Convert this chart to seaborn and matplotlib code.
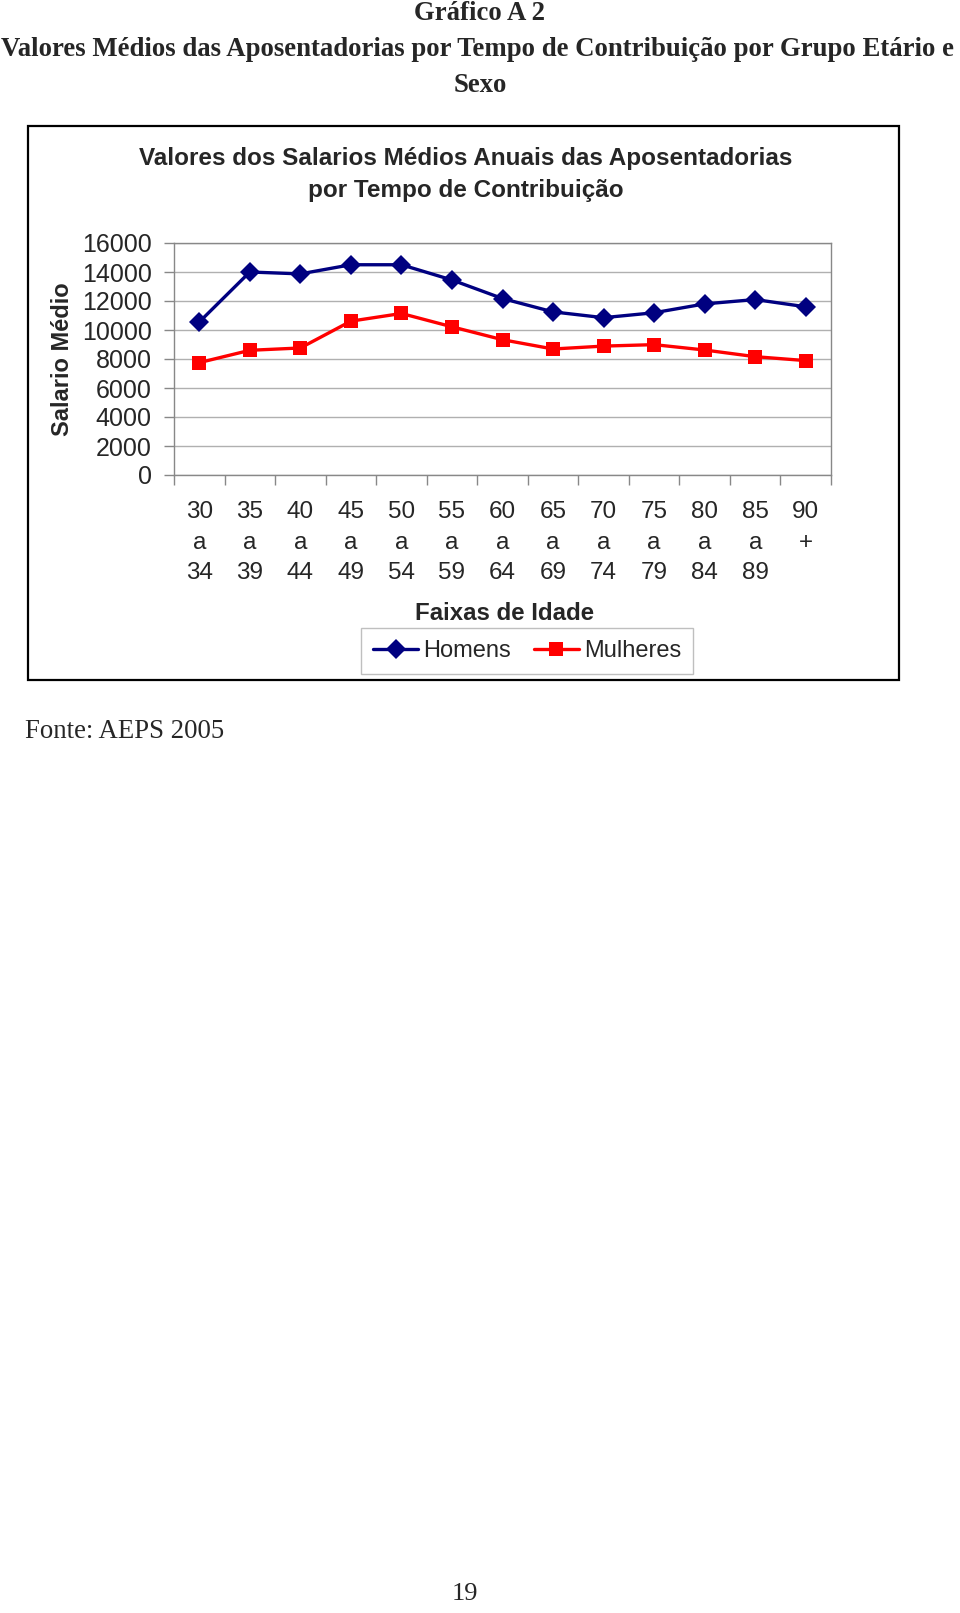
import pandas as pd
import matplotlib.pyplot as plt
from matplotlib.patches import Rectangle
from matplotlib.ticker import FixedLocator
import seaborn as sns

# faixas etarias (categorias do eixo x)
faixas = ['30\na\n34', '35\na\n39', '40\na\n44', '45\na\n49', '50\na\n54', '55\na\n59', '60\na\n64',
          '65\na\n69', '70\na\n74', '75\na\n79', '80\na\n84', '85\na\n89', '90\n+\n ']
# valores
homens = [10550, 14000, 13870, 14500, 14500, 13450, 12170, 11250, 10850, 11190, 11800, 12100, 11600]
mulheres = [7750, 8600, 8760, 10610, 11140, 10220, 9330, 8690, 8890, 8990, 8620, 8160, 7890]
y_ticks = [0, 2000, 4000, 6000, 8000, 10000, 12000, 14000, 16000]

W, H = 960, 1613


def fy(y):
    # pixel (top-down) -> figure fraction
    return 1 - y / H


df = pd.DataFrame({
    'pos': list(range(len(faixas))) * 2,
    'valor': homens + mulheres,
    'sexo': ['Homens'] * len(homens) + ['Mulheres'] * len(mulheres),
})

sns.set_style('white')
plt.rcParams['font.family'] = ['Liberation Sans', 'DejaVu Sans']

fig = plt.figure(figsize=(W / 100, H / 100), dpi=100)
ax = fig.add_axes([174 / W, fy(475), (831 - 174) / W, (475 - 243) / H])

sns.lineplot(data=df, x='pos', y='valor', hue='sexo', style='sexo',
             palette={'Homens': '#000080', 'Mulheres': '#FF0000'},
             markers={'Homens': 'D', 'Mulheres': 's'}, dashes=False,
             linewidth=2.4, markersize=10, markeredgewidth=0, ax=ax, legend=False)

ax.set_xlim(-0.5, len(faixas) - 0.5)
ax.set_ylim(0, 16000)
ax.set_yticks(y_ticks)
ax.set_yticklabels([str(v) for v in y_ticks], fontsize=18)
ax.set_xticks(range(len(faixas)))
ax.set_xticklabels(faixas, fontsize=17.5, linespacing=1.5)
ax.xaxis.set_minor_locator(FixedLocator([i - 0.5 for i in range(len(faixas) + 1)]))
ax.tick_params(axis='x', which='major', length=0, pad=19)
ax.tick_params(axis='x', which='minor', length=7, color='#888888', width=1, direction='out', bottom=True)
ax.tick_params(axis='y', length=7, color='#888888', width=1, direction='out', left=True, pad=9)
ax.grid(axis='y', color='#b0b0b0', linewidth=1)
for s in ax.spines.values():
    s.set_color('#888888')
    s.set_linewidth(1)
ax.set_xlabel('')
ax.set_ylabel('Salario Médio', fontsize=17, fontweight='bold')
ax.yaxis.set_label_coords((74 - 174) / (831 - 174), 0.5)

# titulos da pagina
serif = 'Liberation Serif'
fig.text(0.5, fy(14), 'Gráfico A 2', ha='center', va='center', fontsize=19.3,
         fontweight='bold', family=serif)
fig.text(0.497, fy(49), 'Valores Médios das Aposentadorias por Tempo de Contribuição por Grupo Etário e',
         ha='center', va='center', fontsize=19.3, fontweight='bold', family=serif)
fig.text(0.5, fy(86), 'Sexo', ha='center', va='center', fontsize=19.3,
         fontweight='bold', family=serif)

# titulo do grafico
fig.text(466 / W, fy(158), 'Valores dos Salarios Médios Anuais das Aposentadorias',
         ha='center', va='center', fontsize=17.5, fontweight='bold')
fig.text(466 / W, fy(191), 'por Tempo de Contribuição',
         ha='center', va='center', fontsize=17.5, fontweight='bold')
fig.text(505 / W, fy(613), 'Faixas de Idade', ha='center', va='center', fontsize=17.3, fontweight='bold')

# moldura do grafico
fig.patches.append(Rectangle((28 / W, fy(680)), (899 - 28) / W, (680 - 126) / H,
                             transform=fig.transFigure, fill=False, edgecolor='black', linewidth=1.6))

# legenda
handles = ax.get_lines()[:2]
leg = fig.legend(handles, ['Homens', 'Mulheres'], loc='center', bbox_to_anchor=(527 / W, fy(651)),
                 ncol=2, frameon=True, fancybox=False, edgecolor='#b0b0b0', fontsize=17,
                 handlelength=1.9, handletextpad=0.2, columnspacing=1.0, borderpad=0.5)
leg.get_frame().set_linewidth(1)

fig.text(25 / W, fy(731), 'Fonte: AEPS 2005', ha='left', va='center', fontsize=19.3, family=serif)
fig.text(465 / W, fy(1594), '19', ha='center', va='center', fontsize=19, family=serif)

fig.savefig('out.png', dpi=100, facecolor='white')
